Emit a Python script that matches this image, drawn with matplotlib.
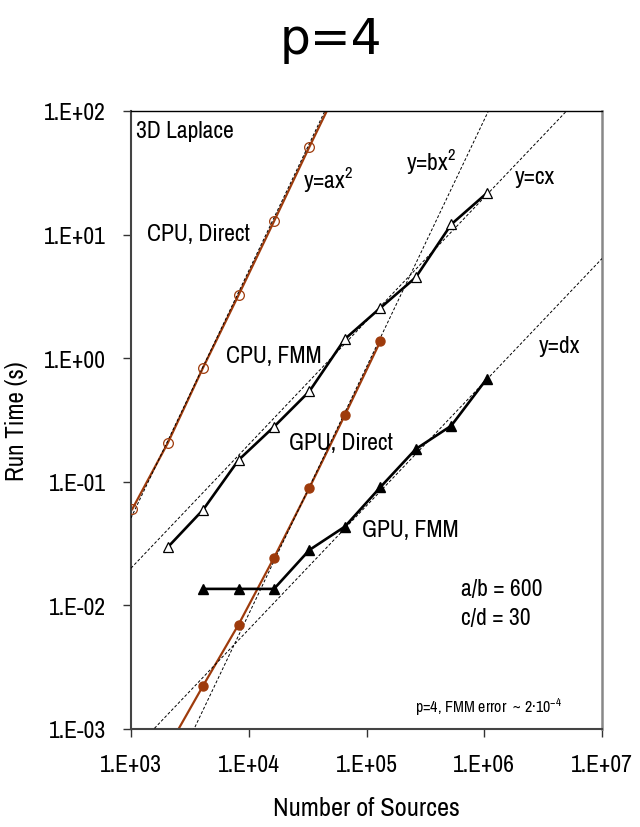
import numpy as np
import matplotlib
matplotlib.use('Agg')
import matplotlib.pyplot as plt
from matplotlib.ticker import FixedLocator, NullLocator

plt.rcParams['font.family'] = ['Archivo Narrow', 'Liberation Sans', 'DejaVu Sans']
plt.rcParams['mathtext.fontset'] = 'custom'
plt.rcParams['mathtext.rm'] = 'Archivo Narrow'
plt.rcParams['mathtext.default'] = 'regular'

# number of sources (doubling from 1024)
n_cpu_direct = [1024, 2048, 4096, 8192, 16384, 32768, 65536]
t_cpu_direct = [0.060, 0.205, 0.84, 3.24, 12.8, 51.4, 200.0]

n_gpu_direct = [2048, 4096, 8192, 16384, 32768, 65536, 131072]
t_gpu_direct = [0.0007, 0.00224, 0.0070, 0.0243, 0.0895, 0.347, 1.37]

n_cpu_fmm = [2048, 4096, 8192, 16384, 32768, 65536, 131072, 262144, 524288, 1048576]
t_cpu_fmm = [0.0295, 0.0594, 0.150, 0.279, 0.540, 1.43, 2.55, 4.51, 12.1, 21.6]

n_gpu_fmm = [4096, 8192, 16384, 32768, 65536, 131072, 262144, 524288, 1048576]
t_gpu_fmm = [0.0136, 0.0136, 0.0136, 0.0281, 0.0434, 0.0904, 0.184, 0.284, 0.680]

# fit coefficients
a_coef = 5.1e-8
b_coef = 8.5e-11
c_coef = 2.0e-5
d_coef = 6.4e-7

x_ticks = [1e3, 1e4, 1e5, 1e6, 1e7]
x_ticklabels = ['1.E+03', '1.E+04', '1.E+05', '1.E+06', '1.E+07']
y_ticks = [1e-3, 1e-2, 1e-1, 1e0, 1e1, 1e2]
y_ticklabels = ['1.E-03', '1.E-02', '1.E-01', '1.E+00', '1.E+01', '1.E+02']

brown = '#9e3b0c'

fig = plt.figure(figsize=(6.4, 8.28), dpi=100)
ax = fig.add_axes([131/640, 98/828, 471/640, 618/828])
ax.set_xscale('log')
ax.set_yscale('log')
ax.set_xlim(1e3, 1e7)
ax.set_ylim(1e-3, 1e2)

# brown direct lines
ax.plot(n_cpu_direct, t_cpu_direct, '-', color=brown, lw=1.6, zorder=2)
ax.plot(n_gpu_direct, t_gpu_direct, '-', color=brown, lw=1.6, zorder=2)

# dashed fit lines
fx = np.logspace(3, 7, 50)
for coef, p in [(a_coef, 2), (b_coef, 2), (c_coef, 1), (d_coef, 1)]:
    ax.plot(fx, coef * fx**p, '--', color='black', lw=0.7, dashes=(3, 2), zorder=3)

# markers for direct
ax.plot(n_cpu_direct, t_cpu_direct, 'o', mfc='none', mec=brown, ms=7, mew=0.9, zorder=4)
ax.plot(n_gpu_direct, t_gpu_direct, 'o', mfc=brown, mec=brown, ms=6.5, zorder=4)

# FMM lines
ax.plot(n_cpu_fmm, t_cpu_fmm, '-', color='black', lw=1.9, marker='^', mfc='white',
        mec='black', ms=7, mew=0.9, zorder=5)
ax.plot(n_gpu_fmm, t_gpu_fmm, '-', color='black', lw=1.9, marker='^', mfc='black',
        mec='black', ms=7.5, zorder=5)

ax.xaxis.set_major_locator(FixedLocator(x_ticks))
ax.xaxis.set_minor_locator(NullLocator())
ax.set_xticklabels(x_ticklabels)
ax.yaxis.set_major_locator(FixedLocator(y_ticks))
ax.yaxis.set_minor_locator(NullLocator())
ax.set_yticklabels(y_ticklabels)
ax.tick_params(direction='out', length=6, width=1, labelsize=17, colors='#333333')
ax.tick_params(axis='x', labelcolor='black', pad=12)
ax.tick_params(axis='y', labelcolor='black', pad=12)

ax.spines['top'].set_linewidth(1.0)
ax.spines['top'].set_color('black')
ax.spines['left'].set_linewidth(1.5)
ax.spines['left'].set_color('#444444')
ax.spines['bottom'].set_linewidth(1.5)
ax.spines['bottom'].set_color('#444444')
ax.spines['right'].set_linewidth(1.8)
ax.spines['right'].set_color('#888888')

ax.set_xlabel('Number of Sources', fontsize=19)
ax.set_ylabel('Run Time (s)', fontsize=18)
ax.xaxis.set_label_coords(0.5, -0.109)
ax.yaxis.set_label_coords(-0.219, 0.5)
fig.text(331/640, 1 - 40/828, 'p=4', ha='center', va='center', fontsize=35,
         family='DejaVu Sans')

def px(x, y):
    return ((x - 131) / 471, (730 - y) / 618)

tk = dict(transform=ax.transAxes, fontsize=17, va='center', ha='left')
ax.text(*px(136, 131), '3D Laplace', **tk)
ax.text(*px(303, 180), 'y=ax$^2$', **tk)
ax.text(*px(147, 235), 'CPU, Direct', **tk)
ax.text(*px(406, 162), 'y=bx$^2$', **tk)
ax.text(*px(515, 177), 'y=cx', **tk)
ax.text(*px(539, 347), 'y=dx', **tk)
ax.text(*px(226, 357), 'CPU, FMM', **tk)
ax.text(*px(289, 444), 'GPU, Direct', **tk)
ax.text(*px(362, 530), 'GPU, FMM', **tk)
ax.text(*px(461, 589), 'a/b = 600', **tk)
ax.text(*px(461, 619), 'c/d = 30', **tk)
ax.text(*px(415, 707), 'p=4, FMM error  ~ 2\u00b710$^{-4}$', transform=ax.transAxes,
        fontsize=11.5, va='center', ha='left')

fig.savefig('out.png', dpi=100)
